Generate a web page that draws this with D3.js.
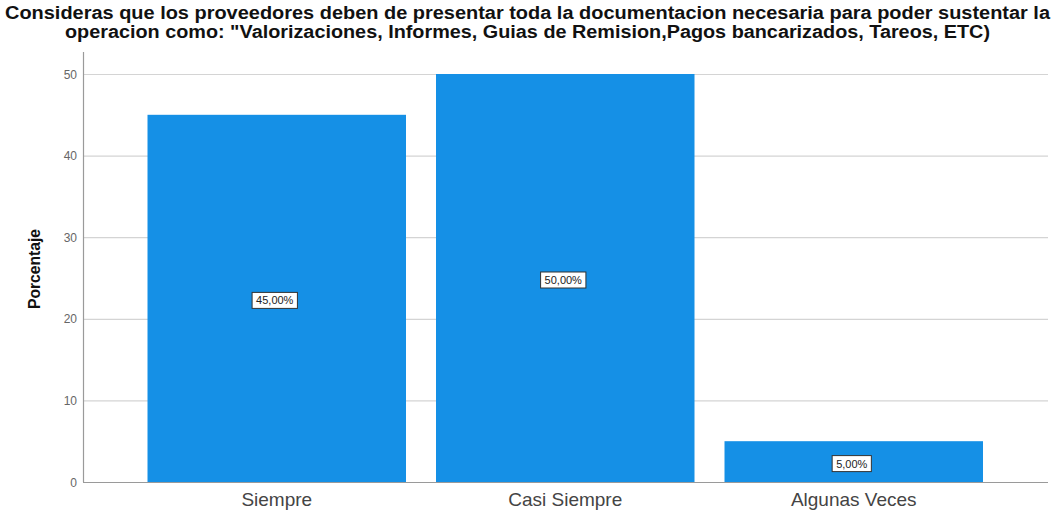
<!DOCTYPE html>
<html>
<head>
<meta charset="utf-8">
<script src="https://cdn.jsdelivr.net/npm/d3@7"></script>
<style>
  html, body { margin: 0; padding: 0; background: #fff; }
  svg { display: block; }
</style>
</head>
<body>
<svg id="chart" width="1056" height="514"></svg>
<script>
// Survey answers and their percentages
const categories = ["Siempre", "Casi Siempre", "Algunas Veces"];
const percentages = [45, 50, 5];
const valueLabels = ["45,00%", "50,00%", "5,00%"];
const yTicks = [0, 10, 20, 30, 40, 50];
const titleLines = [
  "Consideras que los proveedores deben de presentar toda la documentacion necesaria para poder sustentar la",
  "operacion como: \"Valorizaciones, Informes, Guias de Remision,Pagos bancarizados, Tareos, ETC)"
];
const yAxisTitle = "Porcentaje";

const svg = d3.select("#chart");
const plot = { left: 83, right: 1048, top: 52, bottom: 482 };
const font = "'Liberation Sans', Arial, sans-serif";

const x = d3.scaleBand()
  .domain(categories)
  .range([132.5, 998])
  .paddingInner(0.104)
  .paddingOuter(0.052);

const y = d3.scaleLinear()
  .domain([0, 50])
  .range([plot.bottom, 74]);

// Title, two centred lines stretched to the plot width
svg.append("g").selectAll("text")
  .data(titleLines)
  .join("text")
  .attr("x", (d, i) => i === 0 ? 5 : 65)
  .attr("y", (d, i) => 19 + i * 18.5)
  .attr("textLength", (d, i) => i === 0 ? 1045 : 925)
  .attr("lengthAdjust", "spacingAndGlyphs")
  .attr("font-family", font)
  .attr("font-weight", "bold")
  .attr("font-size", 17.5)
  .attr("fill", "#111")
  .text(d => d);

// Gridlines
svg.append("g").selectAll("line")
  .data(yTicks)
  .join("line")
  .attr("x1", plot.left)
  .attr("x2", plot.right)
  .attr("y1", d => y(d) + 0.5)
  .attr("y2", d => y(d) + 0.5)
  .attr("stroke", d => d === 0 ? "#9a9a9a" : "#d4d4d4")
  .attr("stroke-width", 1.2);

// Y axis line
svg.append("line")
  .attr("x1", plot.left + 0.5).attr("x2", plot.left + 0.5)
  .attr("y1", plot.top).attr("y2", plot.bottom)
  .attr("stroke", "#9a9a9a").attr("stroke-width", 1.2);

// Y tick labels
svg.append("g").selectAll("text")
  .data(yTicks)
  .join("text")
  .attr("x", 77)
  .attr("y", d => y(d) + 4.5)
  .attr("text-anchor", "end")
  .attr("font-family", font)
  .attr("font-size", 12)
  .attr("fill", "#666")
  .text(d => d);

// Y axis title
svg.append("text")
  .attr("transform", "translate(40, 269) rotate(-90)")
  .attr("text-anchor", "middle")
  .attr("textLength", 80)
  .attr("lengthAdjust", "spacingAndGlyphs")
  .attr("font-family", font)
  .attr("font-weight", "bold")
  .attr("font-size", 16)
  .attr("fill", "#111")
  .text(yAxisTitle);

// Bars
svg.append("g").selectAll("rect")
  .data(categories)
  .join("rect")
  .attr("x", d => x(d))
  .attr("width", x.bandwidth())
  .attr("y", (d, i) => y(percentages[i]))
  .attr("height", (d, i) => y(0) - y(percentages[i]))
  .attr("fill", "#1590e6");

// Value labels in boxes at bar mid-height
const labels = svg.append("g").selectAll("g")
  .data(categories)
  .join("g")
  .attr("transform", (d, i) => `translate(${x(d) + x.bandwidth() / 2 - 2}, ${y(percentages[i] / 2) + 2})`);

const boxes = labels.append("rect")
  .attr("y", -8)
  .attr("height", 16)
  .attr("fill", "#fff")
  .attr("stroke", "#333")
  .attr("stroke-width", 1);

const labelTexts = labels.append("text")
  .attr("y", 4)
  .attr("text-anchor", "middle")
  .attr("font-family", font)
  .attr("font-size", 11)
  .attr("fill", "#222")
  .text((d, i) => valueLabels[i]);

labelTexts.each(function (d, i) {
  const w = this.getComputedTextLength() + 8;
  d3.select(boxes.nodes()[i]).attr("x", -w / 2).attr("width", w);
});

// Category labels
svg.append("g").selectAll("text")
  .data(categories)
  .join("text")
  .attr("x", d => x(d) + x.bandwidth() / 2)
  .attr("y", 506)
  .attr("text-anchor", "middle")
  .attr("font-family", font)
  .attr("font-size", 19)
  .attr("fill", "#444")
  .text(d => d);
</script>
</body>
</html>
